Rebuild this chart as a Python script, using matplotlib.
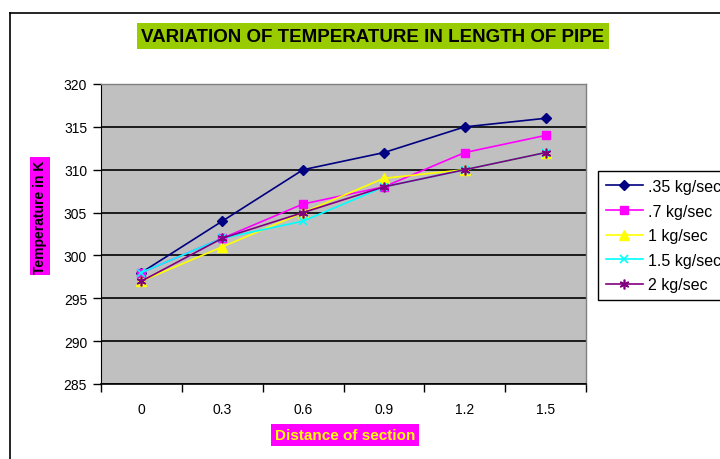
import matplotlib
matplotlib.use("Agg")
import matplotlib.pyplot as plt
from matplotlib.lines import Line2D
import numpy as np

categories = ["0", "0.3", "0.6", "0.9", "1.2", "1.5"]
series_names = [".35 kg/sec", ".7 kg/sec", "1 kg/sec", "1.5 kg/sec", "2 kg/sec"]
s035 = [298, 304, 310, 312, 315, 316]
s07 = [298, 302, 306, 308, 312, 314]
s1 = [297, 301, 305, 309, 310, 312]
s15 = [298, 302, 304, 308, 310, 312]
s2 = [297, 302, 305, 308, 310, 312]
yticks = [285, 290, 295, 300, 305, 310, 315, 320]

plt.rcParams['font.family'] = ['Liberation Sans', 'DejaVu Sans']

fig = plt.figure(figsize=(7.2, 4.6), dpi=100)
fig.patch.set_facecolor('white')
ax = fig.add_axes([101/720, 1-385/460, 485/720, 300/460])
ax.set_facecolor('#C0C0C0')

x = np.arange(len(categories))
styles = [
    dict(color='#000080', marker='D', ms=5, mfc='#000080', mec='#000080'),
    dict(color='#FF00FF', marker='s', ms=6, mfc='#FF00FF', mec='#FF00FF'),
    dict(color='#FFFF00', marker='^', ms=7, mfc='#FFFF00', mec='#FFFF00'),
    dict(color='#00FFFF', marker='x', ms=6, mfc='#00FFFF', mec='#00FFFF', mew=1.2),
    dict(color='#800080', marker=(6, 2, 0), ms=7, mfc='#800080', mec='#800080', mew=1.2),
]
for data, name, st in zip([s035, s07, s1, s15, s2], series_names, styles):
    ax.plot(x, data, lw=1.2, label=name, **st)

ax.set_xlim(-0.5, len(categories) - 0.5)
ax.set_ylim(285, 320)
ax.set_yticks(yticks)
ax.set_yticklabels([str(v) for v in yticks], fontsize=10)
ax.yaxis.grid(True, color='black', lw=1.2)
ax.set_axisbelow(True)

ax.set_xticks(np.arange(-0.5, len(categories), 1.0))
ax.set_xticklabels([])
ax.set_xticks(x, minor=True)
ax.set_xticklabels(categories, minor=True, fontsize=10)
ax.tick_params(axis='x', which='major', direction='out', length=6, width=1, color='black')
ax.tick_params(axis='x', which='minor', length=0, pad=13)
ax.tick_params(axis='y', direction='out', length=6, width=1, color='black', pad=4)

for side in ['top', 'right']:
    ax.spines[side].set_color('#808080')
    ax.spines[side].set_linewidth(1)
ax.spines['left'].set_color('black')
ax.spines['bottom'].set_color('black')
ax.spines['bottom'].set_linewidth(1.2)

fig.text(373/720, 1-37/460, "VARIATION OF TEMPERATURE IN LENGTH OF PIPE",
         ha='center', va='center', fontsize=13.5, fontweight='bold', color='black',
         bbox=dict(boxstyle='square,pad=0.25', fc='#99CC00', ec='none'))

fig.text(40/720, 1-217/460, "Temperature in K", rotation=90,
         ha='center', va='center', fontsize=10, fontweight='bold', color='black',
         bbox=dict(boxstyle='square,pad=0.2', fc='#FF00FF', ec='none'))

fig.text(345/720, 1-436/460, "Distance of section",
         ha='center', va='center', fontsize=11, fontweight='bold', color='#FFFF00',
         bbox=dict(boxstyle='square,pad=0.25', fc='#FF00FF', ec='none'))

leg = fig.legend(loc='upper left', bbox_to_anchor=(598/720, 1-172/460),
                 fontsize=11.5, frameon=True, fancybox=False, edgecolor='black',
                 framealpha=1, borderaxespad=0, handlelength=2.3, labelspacing=0.6,
                 borderpad=0.5, handletextpad=0.3)
leg.get_frame().set_linewidth(1)

fig.add_artist(Line2D([10/720, 10/720], [0, 1-14/460], color='black', lw=1.2,
                      transform=fig.transFigure))
fig.add_artist(Line2D([10/720, 1], [1-14/460, 1-14/460], color='black', lw=1.2,
                      transform=fig.transFigure))

fig.savefig("out.png", dpi=100)
